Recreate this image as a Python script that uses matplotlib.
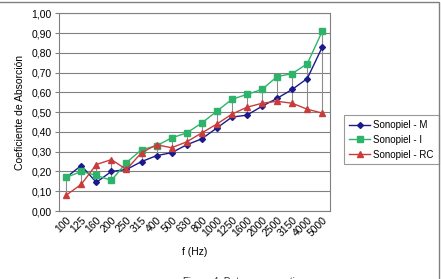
import matplotlib
matplotlib.use('Agg')
import matplotlib.pyplot as plt
from matplotlib.patches import Rectangle
import numpy as np

plt.rcParams['font.family'] = ['Liberation Sans', 'DejaVu Sans']

freqs = ['100', '125', '160', '200', '250', '315', '400', '500', '630', '800',
         '1000', '1250', '1600', '2000', '2500', '3150', '4000', '5000']
sonopiel_m = [0.17, 0.23, 0.145, 0.20, 0.21, 0.25, 0.28, 0.295, 0.335, 0.365,
              0.42, 0.475, 0.485, 0.53, 0.57, 0.615, 0.67, 0.83]
sonopiel_i = [0.17, 0.20, 0.18, 0.155, 0.245, 0.31, 0.33, 0.37, 0.395, 0.445,
              0.505, 0.565, 0.59, 0.615, 0.68, 0.695, 0.745, 0.91]
sonopiel_rc = [0.08, 0.135, 0.235, 0.26, 0.21, 0.295, 0.335, 0.32, 0.35, 0.395,
               0.44, 0.49, 0.525, 0.545, 0.555, 0.545, 0.515, 0.495]

fig = plt.figure(figsize=(4.41, 2.79), dpi=100)
fig.patch.set_facecolor('white')
ax = fig.add_axes([0.133, 0.2437, 0.615, 0.7086])

x = np.arange(len(freqs))

# high-low lines
hi = np.max([sonopiel_m, sonopiel_i, sonopiel_rc], axis=0)
lo = np.min([sonopiel_m, sonopiel_i, sonopiel_rc], axis=0)
ax.vlines(x, lo, hi, color='#8c8c8c', lw=0.8, zorder=2)

ax.plot(x, sonopiel_m, color='#1a1a8c', marker='D', markersize=3, lw=1, label='Sonopiel - M', zorder=3)
ax.plot(x, sonopiel_i, color='#2db46a', marker='s', markersize=4, lw=1, label='Sonopiel - I', zorder=3)
ax.plot(x, sonopiel_rc, color='#c83c3c', marker='^', markersize=4, lw=1, label='Sonopiel - RC', zorder=3)

ax.set_xlim(-0.5, len(freqs) - 0.5)
ax.set_ylim(0, 1.0)
ax.set_yticks(np.arange(0, 1.01, 0.1))
ax.yaxis.set_major_formatter(plt.FuncFormatter(lambda v, p: ('%.2f' % v).replace('.', ',')))
ax.tick_params(axis='y', labelsize=7.5)
ax.set_xticks(x)
ax.set_xticklabels(freqs, rotation=45, ha='right', va='top', fontsize=7.5,
                   rotation_mode='anchor')
ax.tick_params(axis='x', length=0, pad=3)
ax.tick_params(axis='y', length=3, width=0.8, color='#808080', pad=2)
ax.grid(axis='y', color='#808080', lw=0.8)
ax.set_axisbelow(True)
for s in ax.spines.values():
    s.set_color('#808080')
    s.set_linewidth(0.8)

ax.set_ylabel('Coeficiente de Absorción', fontsize=7.5, labelpad=5)
ax.set_xlabel('f (Hz)', fontsize=7.5, labelpad=6)

leg = ax.legend(loc='upper left', bbox_to_anchor=(1.035, 0.51), fontsize=7,
                frameon=True, fancybox=False, edgecolor='#808080',
                borderpad=0.5, labelspacing=0.5, handlelength=2.2, handletextpad=0.3)
leg.get_frame().set_linewidth(0.8)

# outer chart frame
fig.patches.append(Rectangle((-0.01, -0.1), 0.9955 + 0.01, 0.993 + 0.1,
                             transform=fig.transFigure, fill=False,
                             edgecolor='#808080', lw=1))
fig.text(0.56, -0.012, 'Figura 4. Datos comparativos', fontsize=7,
         ha='center', va='center', color='#333333')

plt.savefig('out.png', dpi=100)
